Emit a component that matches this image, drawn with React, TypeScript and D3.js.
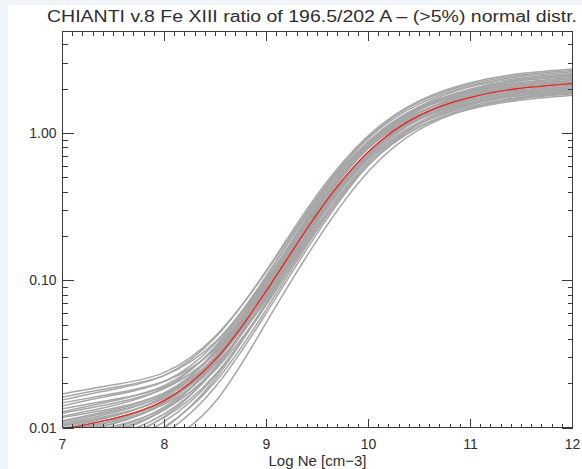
import * as d3 from 'd3';

const logNe = [7, 7.5, 8, 8.5, 9, 9.5, 10, 10.5, 11, 11.5, 12];

// red: ratio from the unperturbed atomic data
const meanRatio = [0.0097, 0.0115, 0.0153, 0.029, 0.085, 0.285, 0.75, 1.32, 1.75, 2.02, 2.17];

// grey: Monte Carlo runs (atomic data perturbed, >5% normal distr.)
const mcRatios = [
  [0.0169, 0.0195, 0.0237, 0.0419, 0.115, 0.367, 0.920, 1.58, 2.10, 2.43, 2.61],
  [0.0161, 0.0187, 0.0226, 0.0382, 0.102, 0.320, 0.802, 1.39, 1.83, 2.11, 2.27],
  [0.0154, 0.0182, 0.0226, 0.0410, 0.117, 0.384, 0.964, 1.66, 2.20, 2.54, 2.73],
  [0.0147, 0.0170, 0.0206, 0.0341, 0.0890, 0.278, 0.714, 1.25, 1.63, 1.88, 2.02],
  [0.0140, 0.0166, 0.0206, 0.0374, 0.107, 0.351, 0.879, 1.51, 1.96, 2.27, 2.43],
  [0.0134, 0.0155, 0.0188, 0.0318, 0.085, 0.265, 0.714, 1.29, 1.75, 2.02, 2.17],
  [0.0128, 0.0152, 0.0193, 0.0349, 0.0999, 0.335, 0.859, 1.52, 2.06, 2.37, 2.55],
  [0.0125, 0.0146, 0.0184, 0.0325, 0.0911, 0.292, 0.730, 1.24, 1.60, 1.80, 1.93],
  [0.0119, 0.0141, 0.0186, 0.0357, 0.107, 0.359, 0.879, 1.48, 1.90, 2.17, 2.33],
  [0.0117, 0.0135, 0.0172, 0.0297, 0.0793, 0.254, 0.697, 1.29, 1.75, 2.07, 2.22],
  [0.0111, 0.0132, 0.0172, 0.0325, 0.0943, 0.316, 0.829, 1.48, 1.99, 2.32, 2.49],
  [0.0109, 0.0129, 0.0166, 0.0304, 0.085, 0.278, 0.730, 1.26, 1.67, 1.93, 2.07],
  [0.0106, 0.0126, 0.0168, 0.0325, 0.0987, 0.335, 0.849, 1.48, 1.92, 2.21, 2.38],
  [0.0104, 0.0122, 0.0157, 0.0271, 0.0740, 0.237, 0.637, 1.15, 1.52, 1.76, 1.89],
  [0.0102, 0.0120, 0.0160, 0.0307, 0.0911, 0.306, 0.792, 1.38, 1.83, 2.11, 2.27],
  [0.0099, 0.0119, 0.0164, 0.0333, 0.105, 0.367, 0.942, 1.63, 2.15, 2.48, 2.67],
  [0.0097, 0.0115, 0.0149, 0.0280, 0.0802, 0.265, 0.714, 1.28, 1.71, 1.97, 2.12],
  [0.0095, 0.0112, 0.0153, 0.0304, 0.0932, 0.320, 0.820, 1.44, 1.88, 2.17, 2.33],
  [0.0093, 0.0110, 0.0144, 0.0264, 0.0757, 0.249, 0.667, 1.19, 1.60, 1.84, 1.98],
  [0.0091, 0.0107, 0.0146, 0.029, 0.0870, 0.298, 0.802, 1.45, 1.94, 2.27, 2.43],
  [0.0088, 0.0106, 0.0149, 0.0304, 0.0965, 0.335, 0.839, 1.39, 1.79, 2.02, 2.17],
  [0.0086, 0.0102, 0.0135, 0.0247, 0.0691, 0.227, 0.615, 1.11, 1.49, 1.72, 1.85],
  [0.0083, 0.0099, 0.0138, 0.0280, 0.0870, 0.302, 0.792, 1.38, 1.83, 2.11, 2.27],
  [0.0081, 0.0096, 0.0132, 0.0255, 0.0767, 0.263, 0.730, 1.36, 1.88, 2.19, 2.38],
  [0.0077, 0.0093, 0.0133, 0.0280, 0.0904, 0.316, 0.792, 1.32, 1.67, 1.91, 2.02],
  [0.0074, 0.0088, 0.0124, 0.0250, 0.0775, 0.269, 0.730, 1.32, 1.77, 2.07, 2.22],
  [0.0070, 0.0084, 0.0117, 0.0230, 0.0683, 0.235, 0.644, 1.16, 1.56, 1.80, 1.93],
  [0.0067, 0.0081, 0.0119, 0.0253, 0.0821, 0.295, 0.802, 1.47, 1.99, 2.32, 2.49],
  [0.0063, 0.0076, 0.0110, 0.0225, 0.0707, 0.249, 0.682, 1.24, 1.67, 1.93, 2.07],
  [0.0058, 0.0070, 0.0101, 0.0205, 0.0638, 0.221, 0.608, 1.10, 1.46, 1.68, 1.81],
  [0.0055, 0.0066, 0.0099, 0.0215, 0.0707, 0.254, 0.714, 1.32, 1.81, 2.11, 2.27],
  [0.0051, 0.0062, 0.0091, 0.0189, 0.0602, 0.210, 0.608, 1.15, 1.58, 1.84, 1.98],
  [0.0049, 0.0056, 0.0078, 0.0150, 0.0520, 0.189, 0.550, 1.06, 1.47, 1.74, 1.88],
];

const xTicks = [7, 8, 9, 10, 11, 12];
const yTicks = [0.01, 0.1, 1];
const yTickLabels = ['0.01', '0.10', '1.00'];

const title = 'CHIANTI v.8 Fe XIII ratio of 196.5/202 A \u2013 (>5%) normal distr.';
const xTitle = 'Log Ne [cm\u22123]';

const W = 582;
const H = 469;
const left = 62.5;
const right = 572.5;
const top = 31.5;
const bottom = 427.5;

const axisColor = '#3a3a3a';
const font = '"Liberation Sans", Arial, sans-serif';

function App() {
  const x = d3.scaleLinear().domain([7, 12]).range([left, right]);
  const y = d3.scaleLog().domain([0.01, 4.9]).range([bottom, top]);

  const line = d3.line<number>()
    .x((_, i) => x(logNe[i]))
    .y(d => y(d))
    .curve(d3.curveNatural);

  const xMinor = x.ticks(50).filter(t => !xTicks.includes(t));
  const yAll = y.ticks();
  const yMinor = yAll.filter(t => !yTicks.some(m => Math.abs(m - t) < 1e-9));
  const py = (t: number) => Math.round(y(t)) + 0.5;

  return (
    <svg width={W} height={H} style={{ position: 'absolute', left: 0, top: 0 }}>
      <rect x={0} y={0} width={W} height={H} fill="#eff5f9" />
      <rect x={8} y={5} width={W - 8} height={H - 5} fill="#ffffff" />
      <defs>
        <clipPath id="plot">
          <rect x={left} y={top} width={right - left} height={bottom - top} />
        </clipPath>
      </defs>

      <g clipPath="url(#plot)" fill="none">
        {mcRatios.map((c, i) => (
          <path key={i} d={line(c) ?? ''} stroke="#a6a6a6" strokeWidth={1.5} />
        ))}
        <path d={line(meanRatio) ?? ''} stroke="#e8231b" strokeWidth={1.3} />
      </g>

      <g stroke={axisColor} strokeWidth={1} shapeRendering="crispEdges" fill="none">
        <rect x={left} y={top} width={right - left} height={bottom - top} />
        {xTicks.map(t => (
          <g key={'xm' + t}>
            <line x1={x(t)} x2={x(t)} y1={bottom} y2={bottom - 9} />
            <line x1={x(t)} x2={x(t)} y1={top} y2={top + 9} />
          </g>
        ))}
        {xMinor.map(t => (
          <g key={'xn' + t}>
            <line x1={x(t)} x2={x(t)} y1={bottom} y2={bottom - 4} />
            <line x1={x(t)} x2={x(t)} y1={top} y2={top + 4} />
          </g>
        ))}
        {yTicks.map(t => (
          <g key={'ym' + t}>
            <line x1={left} x2={left + 11} y1={py(t)} y2={py(t)} />
            <line x1={right} x2={right - 11} y1={py(t)} y2={py(t)} />
          </g>
        ))}
        {yMinor.map(t => (
          <g key={'yn' + t}>
            <line x1={left} x2={left + 5} y1={py(t)} y2={py(t)} />
            <line x1={right} x2={right - 5} y1={py(t)} y2={py(t)} />
          </g>
        ))}
      </g>

      <g fill="#2e2e2e" fontFamily={font} fontSize={14}>
        {yTicks.map((t, i) => (
          <text key={'yl' + t} x={left - 6} y={y(t) + 5} textAnchor="end">{yTickLabels[i]}</text>
        ))}
        {xTicks.map(t => (
          <text key={'xl' + t} x={x(t)} y={449} textAnchor="middle">{t}</text>
        ))}
        <text x={(left + right) / 2} y={466} textAnchor="middle" fontSize={15}>{xTitle}</text>
        <text x={47} y={22} fontSize={16} textLength={530} lengthAdjust="spacingAndGlyphs">{title}</text>
      </g>
    </svg>
  );
}

export default App;
